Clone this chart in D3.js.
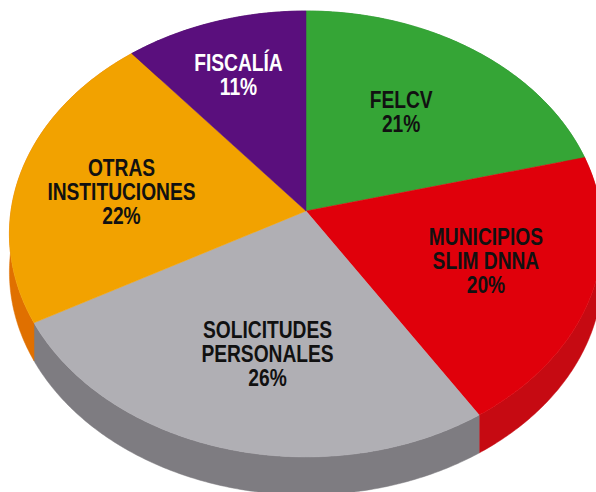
<!DOCTYPE html>
<html>
<head>
<meta charset="utf-8">
<script src="https://cdn.jsdelivr.net/npm/d3@7"></script>
<style>
  body { margin: 0; background: #fff; }
  svg { display: block; }
  .lbl { font-family: "Liberation Sans", Arial, sans-serif; font-weight: bold; font-size: 24px; }
</style>
</head>
<body>
<div id="chart"></div>
<script>
// slices, clockwise from the top
var categories = ["FELCV", "MUNICIPIOS SLIM DNNA", "SOLICITUDES PERSONALES", "OTRAS INSTITUCIONES", "FISCALÍA"];
var labelLines = [["FELCV"], ["MUNICIPIOS", "SLIM DNNA"], ["SOLICITUDES", "PERSONALES"], ["OTRAS", "INSTITUCIONES"], ["FISCALÍA"]];
var values = [21, 20, 26, 22, 11];
var topColors = ["#35a536", "#e0000b", "#b0afb4", "#f2a200", "#5a0f7d"];
var sideColors = ["#2a8a2b", "#c60a12", "#7e7c81", "#e07000", "#45095f"];
var textColors = ["#111", "#111", "#111", "#111", "#fff"];

var width = 596, height = 492;
var depth = 38;       // thickness of the disc
var tilt = -0.103;    // perspective factor (near side bigger)
var labelR = [0.58, 0.64, 0.62, 0.62, 0.7];
var labelNudge = [[-5, -2], [0, -3], [10, 2], [-7, 6], [-2, 0]];
var squeeze = 0.8;    // condensed look for the labels

var svg = d3.select("#chart").append("svg")
  .attr("width", width)
  .attr("height", height);

// disc coords (-1..1) -> screen
var x = d3.scaleLinear().domain([-1, 1]).range([306 - 295, 306 + 295]);
var y = d3.scaleLinear().domain([-1, 1]).range([211 - 220.6, 211 + 220.6]);

function proj(r, a){
  var u = r * Math.sin(a), v = -r * Math.cos(a);
  var d = 1 + tilt * v;
  return [x(u / d), y(v / d)];
}

function arcPoints(a0, a1){
  var pts = [];
  var n = Math.max(2, Math.ceil((a1 - a0) / 0.01));
  for(var i=0;i<=n;i++){
    pts.push(proj(1, a0 + (a1 - a0) * i / n));
  }
  return pts;
}

var pie = d3.pie().sort(null).value(function(d){ return d; });
var arcs = pie(values);
var line = d3.line();

// side walls first
svg.append("g").selectAll("path")
  .data(arcs)
  .enter().append("path")
  .attr("d", function(d){
    var top = arcPoints(d.startAngle, d.endAngle);
    var bottom = top.map(function(p){ return [p[0], p[1] + depth]; }).reverse();
    return line(top.concat(bottom)) + "Z";
  })
  .attr("fill", function(d, i){ return sideColors[i]; })
  .attr("stroke", function(d, i){ return sideColors[i]; })
  .attr("stroke-width", 0.5);

// top faces
svg.append("g").selectAll("path")
  .data(arcs)
  .enter().append("path")
  .attr("d", function(d){
    var pts = [proj(0, 0)].concat(arcPoints(d.startAngle, d.endAngle));
    return line(pts) + "Z";
  })
  .attr("fill", function(d, i){ return topColors[i]; })
  .attr("stroke", function(d, i){ return topColors[i]; })
  .attr("stroke-width", 0.5);

// labels
var lineH = 24;
svg.append("g").selectAll("text")
  .data(arcs)
  .enter().append("text")
  .attr("class", "lbl")
  .attr("text-anchor", "middle")
  .attr("fill", function(d, i){ return textColors[i]; })
  .each(function(d, i){
    var c = proj(labelR[i], (d.startAngle + d.endAngle) / 2);
    var cx = c[0] + labelNudge[i][0], cy = c[1] + labelNudge[i][1];
    var lines = labelLines[i].concat([values[i] + "%"]);
    var y0 = cy - (lines.length - 1) * lineH / 2 + 8;
    var t = d3.select(this)
      .attr("transform", "translate(" + cx + ",0) scale(" + squeeze + ",1)");
    lines.forEach(function(s, k){
      t.append("tspan").attr("x", 0).attr("y", y0 + k * lineH).text(s);
    });
  });
</script>
</body>
</html>
